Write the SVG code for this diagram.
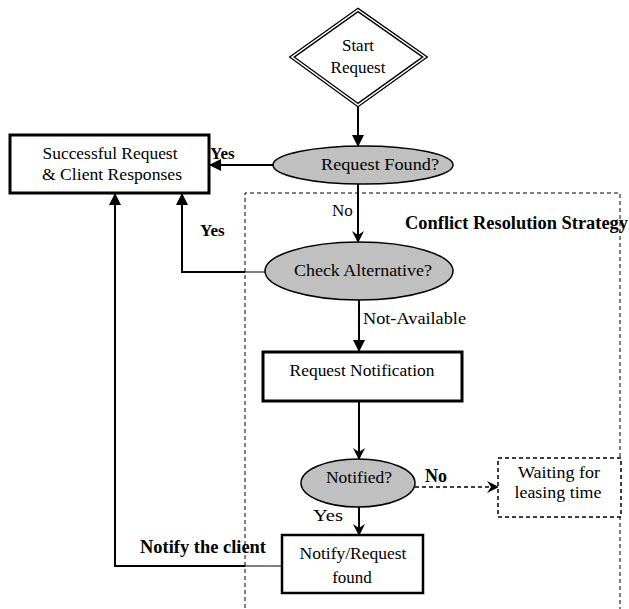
<svg xmlns="http://www.w3.org/2000/svg" width="629" height="609" viewBox="0 0 629 609">
<style>
text{font-family:'Liberation Serif','DejaVu Serif',serif;font-size:17px;fill:#000}
.b{font-weight:bold}
.c{text-anchor:middle}
.box{fill:#fff;stroke:#000;stroke-width:3}
.ell{fill:#c0c0c0;stroke:#000;stroke-width:1.5}
.con{fill:none;stroke:#000;stroke-width:2}
.thin{fill:none;stroke:#000;stroke-width:1}
.dash{fill:none;stroke:#000;stroke-width:1;stroke-dasharray:4,3}
</style>
<defs>
<marker id="af" markerUnits="userSpaceOnUse" markerWidth="12" markerHeight="12" refX="11" refY="6" orient="auto" viewBox="0 0 12 12"><path d="M0,0 L12,6 L0,12 z" fill="#000"/></marker>
<marker id="av" markerUnits="userSpaceOnUse" markerWidth="12" markerHeight="12" refX="11" refY="6" orient="auto" viewBox="0 0 12 12"><path d="M0,0 L12,6 L0,12 L4,6 z" fill="#000"/></marker>
</defs>
<g font-family="Liberation Serif, serif">
<g id="container">
<path class="dash" d="M245,615 V193 H620 V615"/>
<text class="b" x="405" y="229" style="font-size:18px" textLength="223" lengthAdjust="spacingAndGlyphs">Conflict Resolution Strategy</text>
</g>
<g id="connectors">
<line class="con" x1="358" y1="105" x2="358" y2="146" marker-end="url(#af)"/>
<line class="con" x1="273" y1="165" x2="210" y2="165" marker-end="url(#af)"/>
<line class="con" x1="358" y1="184" x2="358" y2="242" marker-end="url(#av)"/>
<line class="thin" x1="265" y1="272" x2="245" y2="272"/>
<path class="con" d="M245,272 H182 V194" marker-end="url(#af)"/>
<line class="con" x1="359" y1="300" x2="359" y2="351" marker-end="url(#af)"/>
<line class="con" x1="359" y1="401" x2="359" y2="459" marker-end="url(#av)"/>
<line class="dash" x1="415" y1="487" x2="498" y2="487" style="stroke-width:1.5" marker-end="url(#av)"/>
<line class="con" x1="359" y1="507" x2="359" y2="535" marker-end="url(#av)"/>
<line class="thin" x1="282" y1="566" x2="245" y2="566"/>
<path class="con" d="M245,566 H115 V194" marker-end="url(#af)"/>
<text class="b" x="210" y="159">Yes</text>
<text class="b" x="200" y="236">Yes</text>
<text x="332" y="216">No</text>
<text x="363" y="324" textLength="103" lengthAdjust="spacingAndGlyphs">Not-Available</text>
<text class="b" x="425" y="482" style="font-size:18px">No</text>
<text x="313" y="521" textLength="30" lengthAdjust="spacingAndGlyphs">Yes</text>
<text class="b" x="140" y="553" style="font-size:18px" textLength="126" lengthAdjust="spacingAndGlyphs">Notify the client</text>
</g>
<g id="start">
<polygon points="358,10 425,57 358,105 292,57" fill="#fff" stroke="#000" stroke-width="4"/>
<polygon points="358,10 425,57 358,105 292,57" fill="none" stroke="#fff" stroke-width="1.5"/>
<text class="c" x="358" y="51">Start</text>
<text class="c" x="358" y="73">Request</text>
</g>
<g id="successful">
<rect class="box" x="10" y="135" width="199" height="58"/>
<text class="c" x="110" y="159" textLength="135" lengthAdjust="spacingAndGlyphs">Successful Request</text>
<text class="c" x="112" y="180" textLength="140" lengthAdjust="spacingAndGlyphs">&amp; Client Responses</text>
</g>
<g id="request-found">
<ellipse class="ell" cx="363" cy="165" rx="90" ry="19"/>
<text class="c" x="380" y="170" textLength="118" lengthAdjust="spacingAndGlyphs">Request Found?</text>
</g>
<g id="check-alternative">
<ellipse class="ell" cx="359" cy="271" rx="94" ry="29"/>
<text class="c" x="363" y="276" textLength="138" lengthAdjust="spacingAndGlyphs">Check Alternative?</text>
</g>
<g id="request-notification">
<rect class="box" x="263" y="352" width="199" height="49"/>
<text class="c" x="362" y="376" textLength="145" lengthAdjust="spacingAndGlyphs">Request Notification</text>
</g>
<g id="notified">
<ellipse class="ell" cx="358" cy="483" rx="57" ry="24"/>
<text class="c" x="359" y="483" textLength="66" lengthAdjust="spacingAndGlyphs">Notified?</text>
</g>
<g id="waiting">
<rect x="498" y="458" width="123" height="59" fill="#fff" stroke="#000" stroke-width="1.5" stroke-dasharray="4,3"/>
<text class="c" x="559" y="478" textLength="82" lengthAdjust="spacingAndGlyphs">Waiting for</text>
<text class="c" x="558" y="498" textLength="87" lengthAdjust="spacingAndGlyphs">leasing time</text>
</g>
<g id="notify-request">
<rect x="282" y="535" width="141" height="58" fill="#fff" stroke="#000" stroke-width="2.5"/>
<text class="c" x="353" y="559" textLength="107" lengthAdjust="spacingAndGlyphs">Notify/Request</text>
<text class="c" x="352" y="583">found</text>
</g>
</g>
</svg>
